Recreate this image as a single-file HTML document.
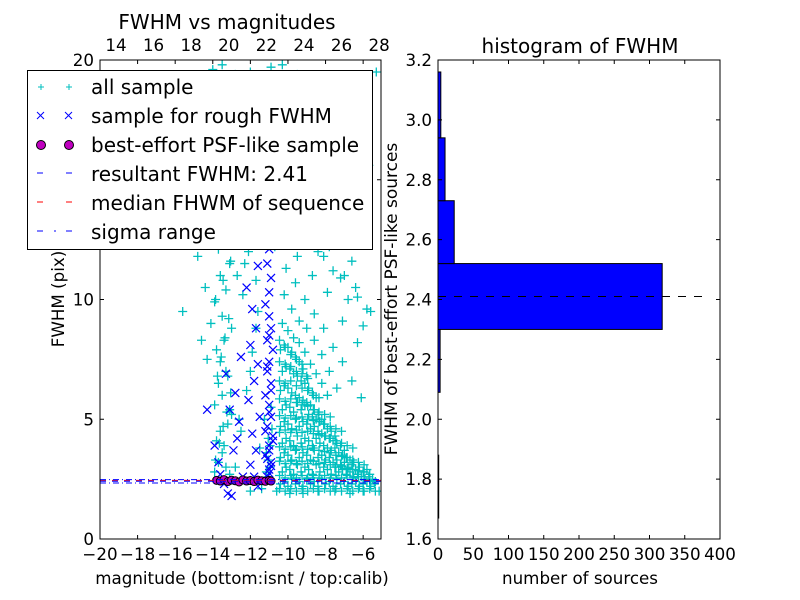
<!DOCTYPE html>
<html><head><meta charset="utf-8"><style>
body{margin:0;background:#fff;}
svg{display:block;font-family:"DejaVu Sans","Liberation Sans",sans-serif;}
</style></head><body>
<svg id="fig" width="800" height="600" viewBox="0 0 800 600" xmlns="http://www.w3.org/2000/svg" style="position:absolute;left:0;top:0">
<rect width="800" height="600" fill="#fff"/>
<g id="left"></g>
<g id="right"></g>
</svg>
<script>
// ---- scatter data ----
const allSampleMag = [-10.4,-10.2,-10.0,-9.8,-9.6,-9.4,-9.2,-9.0,-8.8,-8.6,-8.4,-8.2,-8.0,-7.8,-7.6,-7.4,-7.2,-7.0,-6.8,-6.6,-6.4,-6.2,-6.0,-5.8,-5.6,-5.4,
-10.3,-10.1,-9.9,-9.7,-9.5,-9.3,-9.1,-8.9,-8.7,-8.5,-8.3,-8.1,-7.9,-7.7,-7.5,-7.3,-7.1,-6.9,-6.7,-6.5,-6.3,-6.1,-5.9,-5.7,-5.5,
-10.4,-10.2,-10.0,-9.8,-9.6,-9.4,-9.2,-9.0,-8.8,-8.6,-8.4,-8.2,-8.0,-7.8,-7.6,-7.4,-7.2,-7.0,-6.8,-6.6,-6.4,-6.2,-6.0,-5.8,
-10.3,-10.1,-9.9,-9.7,-9.5,-9.3,-9.1,-8.9,-8.7,-8.5,-8.3,-8.1,-7.9,-7.7,-7.5,-7.3,-7.1,-6.9,-6.7,-6.5,
-10.4,-10.2,-10.0,-9.8,-9.6,-9.4,-9.2,-9.0,-8.8,-8.6,-8.4,-8.2,-8.0,-7.8,-7.6,-7.4,-7.2,-7.0,
-10.3,-10.1,-9.9,-9.7,-9.5,-9.3,-9.1,-8.9,-8.7,-8.5,-8.3,-8.1,-7.9,-7.7,-7.5,
-10.4,-10.2,-10.0,-9.8,-9.6,-9.4,-9.2,-9.0,-8.8,-8.6,-8.4,-8.2,
-10.3,-10.1,-9.9,-9.7,-9.5,-9.3,-9.1,-8.9,-8.7,-8.5,
-10.4,-10.2,-10.0,-9.8,-9.6,-9.4,-9.2,-9.0,
-10.3,-10.0,-9.7,-9.4,-9.1,-8.8,-8.5,-8.2,-7.9,
-10.2,-9.8,-9.4,-9.0,-8.6,-8.2,-7.8,-7.4,
-10.1,-9.6,-9.1,-8.6,-8.1,-7.6,-7.1,-6.6,-6.1,
-10.3,-9.5,-8.7,-7.9,-7.1,-6.3,
-10.0,-9.2,-8.4,-7.6,-6.8,-6.0,
-10.2,-9.4,-8.6,-7.8,-7.0,-5.8,
-9.8,-9.0,-8.2,-7.4,-6.6,
-10.4,-9.6,-8.8,-8.0,-7.2,-6.4,
-10.1,-9.3,-8.5,-7.7,-6.9,
-9.9,-9.1,-8.3,-7.5,-6.2,
-10.3,-9.5,-8.7,-7.3,-5.7,
-13.9,-13.7,-13.5,-13.3,-13.1,-13.8,-13.6,-13.4,-13.2,-13.0,-13.9,-13.5,-13.1,-13.7,-13.3,-13.6,-13.2,-13.8,-13.4,-13.0,-13.5,-13.9,-13.3,-13.6,-13.1,-13.7,-13.2,-13.4,-13.8,-13.5,
-12.8,-12.5,-12.2,-11.9,-11.6,-12.7,-12.3,-11.8,-12.6,-12.0,-11.7,-12.4,-12.1,-12.9,-11.5,-12.5,-12.2,-11.9,-12.7,-12.0,
-14.3,-14.6,-14.1,-14.4,-14.8,-14.2,-15.6,-14.5,-14.0,-14.7,
-11.8,-11.2,-10.8,-12.2,-13.0,-12.6,-11.5,-10.9,-12.9,-11.0,-13.2,-12.3,-11.7,-10.7,-9.6,-8.9,-8.1,-7.2,-6.3,-5.6,
-12.0,-11.4,-10.6,-9.9,-9.2,-8.4,-7.5,-6.7,-6.0,-13.5,-14.0,-12.8,-11.1,-10.4,-9.4,-8.6,-7.8,-6.9,-6.1,-5.3,
-10.45,-10.15,-9.85,-9.55,-9.25,-8.95,-8.65,-8.35,-8.05,-7.75,-7.45,-7.15,-6.85,-6.55,-6.25,-5.95,-5.65,-5.35,-5.15,
-10.45,-10.15,-9.85,-9.55,-9.25,-8.95,-8.65,-8.35,-8.05,-7.75,-7.45,-7.15,-6.85,-6.55,-6.25,-5.95,-5.65,-5.35,
-10.45,-10.15,-9.85,-9.55,-9.25,-8.95,-8.65,-8.35,-8.05,-7.75,-7.45,-7.15,-6.85,-6.55,-6.25,-5.95,-5.65,
-10.45,-10.15,-9.85,-9.55,-9.25,-8.95,-8.65,-8.35,-8.05,-7.75,-7.45,-7.15,-6.85,-6.55,-6.25,-5.95,
-10.45,-10.15,-9.85,-9.55,-9.25,-8.95,-8.65,-8.35,-8.05,-7.75,-7.45,-7.15,-6.85,-6.55,
-10.45,-10.15,-9.85,-9.55,-9.25,-8.95,-8.65,-8.35,-8.05,-7.75,-7.45,-7.15,
-10.45,-10.15,-9.85,-9.55,-9.25,-8.95,-8.65,-8.35,-8.05,-7.75,
-10.45,-10.15,-9.85,-9.55,-9.25,-8.95,-8.65,-8.35,
-10.45,-10.15,-9.85,-9.55,-9.25,-8.95,
-10.45,-10.15,-9.85,-9.55,-9.25,
-13.85,-13.65,-13.45,-13.25,-13.05,-13.75,-13.55,-13.35,-13.15,-13.85,-13.45,-13.05,-13.65,-13.25,
-11.05,-11.15,-10.95,-11.05,-11.15,-10.95,-11.05,-10.85,-11.25,-10.9];
const allSampleFwhm = [2.3,2.4,2.2,2.5,2.3,2.4,2.2,2.5,2.3,2.4,2.2,2.5,2.3,2.4,2.2,2.5,2.3,2.4,2.2,2.3,2.4,2.2,2.3,2.4,2.2,2.3,
2.8,3.0,2.9,2.7,3.1,2.8,3.0,2.9,2.7,3.1,2.8,3.0,2.9,2.7,3.0,2.8,2.9,2.7,2.8,2.6,2.7,2.6,2.5,2.6,2.5,
3.4,3.6,3.5,3.3,3.7,3.4,3.6,3.5,3.3,3.7,3.4,3.5,3.3,3.4,3.2,3.3,3.1,3.2,3.0,3.1,2.9,3.0,2.8,2.9,
4.0,4.2,4.1,3.9,4.3,4.0,4.2,4.1,3.9,4.2,4.0,3.9,3.8,3.7,3.8,3.6,3.5,3.4,3.3,3.2,
4.7,4.9,4.8,4.6,5.0,4.7,4.9,4.8,4.6,4.7,4.5,4.4,4.3,4.2,4.1,4.0,3.9,3.7,
5.4,5.6,5.5,5.3,5.7,5.4,5.6,5.2,5.1,5.0,4.9,4.8,4.6,4.5,4.3,
6.2,6.4,6.3,6.1,6.0,5.9,5.8,5.7,5.6,5.4,5.2,5.0,
7.0,7.2,7.1,6.9,6.8,6.6,6.5,6.3,6.1,5.9,
7.9,8.1,8.0,7.8,7.6,7.4,7.1,6.8,
9.0,8.7,8.4,8.2,7.8,7.3,6.9,6.5,6.0,
10.2,9.6,9.1,8.8,8.3,7.7,7.0,6.3,
11.3,10.7,10.0,9.4,8.8,8.0,7.4,6.6,5.9,
12.5,11.8,11.0,10.3,9.1,8.2,
13.6,12.9,12.0,11.2,10.0,8.9,
14.8,14.0,13.1,12.2,11.0,9.6,
15.9,15.0,14.1,13.0,11.6,
17.0,16.2,15.2,14.3,12.8,10.5,
18.2,17.3,16.4,15.4,13.5,
19.1,18.5,17.6,16.3,14.2,
19.8,19.4,18.8,17.8,15.6,
2.8,3.2,3.6,3.0,2.7,4.1,4.5,3.9,4.8,5.2,5.6,6.0,5.4,6.5,7.0,7.4,6.8,7.9,8.3,8.8,9.3,9.9,10.4,11.0,11.5,12.1,12.6,13.2,13.8,14.4,
3.0,4.5,6.2,7.8,9.5,11.0,12.5,14.0,5.0,7.0,8.8,10.2,12.0,13.5,3.8,16.0,17.5,15.0,18.5,19.5,
7.5,8.3,9.0,10.5,11.8,12.6,9.5,13.5,15.0,16.8,
17.8,18.6,19.3,19.0,18.0,17.0,16.5,19.7,15.5,14.5,13.0,11.5,10.8,12.2,13.4,12.6,11.8,10.9,10.1,9.5,
2.0,2.1,2.0,1.9,1.9,2.0,2.0,1.9,2.0,19.8,19.6,19.4,19.2,18.8,18.4,17.9,17.2,16.6,15.9,19.5,
2.1,2.0,2.1,2.0,2.1,2.0,2.1,2.0,2.1,2.0,2.1,2.0,2.1,2.0,2.1,2.0,2.1,2.0,2.0,
2.65,2.55,2.65,2.55,2.65,2.55,2.65,2.55,2.65,2.55,2.65,2.55,2.65,2.55,2.6,2.5,2.45,2.4,
3.25,3.15,3.25,3.15,3.25,3.15,3.25,3.15,3.2,3.1,3.0,3.05,2.95,2.9,2.85,2.8,2.7,
3.85,3.75,3.85,3.75,3.85,3.75,3.8,3.7,3.65,3.6,3.5,3.45,3.4,3.3,3.2,3.1,
4.45,4.55,4.45,4.55,4.45,4.5,4.4,4.35,4.3,4.2,4.1,4.0,3.9,3.8,
5.15,5.05,5.15,5.05,5.1,5.0,4.95,4.9,4.8,4.7,4.6,4.5,
5.85,5.75,5.85,5.7,5.6,5.55,5.4,5.3,5.2,5.1,
6.6,6.5,6.6,6.4,6.3,6.2,6.0,5.9,
7.4,7.3,7.2,7.0,6.9,6.7,
8.3,8.0,7.7,7.5,7.3,
3.3,4.0,4.7,5.3,6.1,6.8,7.6,8.4,9.2,10.0,10.8,11.6,12.3,12.9,
2.6,2.8,3.0,3.3,3.6,3.9,4.2,4.6,5.0,5.5];
const roughMag = [-11.1,-11.0,-10.9,-11.2,-11.0,-10.8,-11.1,-10.9,-11.0,-11.2,-10.9,-11.1,-11.0,-10.8,-11.1,-10.9,-11.0,-11.2,-11.0,-10.9,-11.1,-11.0,-10.8,-11.1,-10.9,-11.0,-11.2,-10.9,-11.0,-11.1,
-11.6,-11.8,-12.0,-11.7,-11.9,-11.5,-12.1,-11.8,-11.6,-12.0,-11.7,-11.9,-12.2,-11.6,-12.4,-12.3,
-13.2,-13.4,-13.6,-13.7,-12.9,-12.7,-12.6,-13.1,-12.8,-13.3,-12.5,-14.3,-13.9,-12.4,-13.0,
-11.0,-10.9,-11.1,-11.0,-10.8,-11.2,-11.0,-10.9,-11.1,-11.0];
const roughFwhm = [2.6,2.9,3.2,3.5,3.9,4.3,4.7,5.1,5.6,6.0,6.5,7.0,7.4,7.9,8.3,8.8,9.3,9.8,10.3,10.9,11.5,12.1,12.7,13.3,14.0,14.8,15.5,16.3,17.2,18.2,
2.2,2.6,3.1,3.7,4.4,5.1,5.8,6.6,7.3,8.1,8.8,9.6,10.5,11.4,12.5,13.5,
1.9,2.3,2.7,3.2,3.7,4.2,4.9,5.4,6.1,6.9,7.6,5.4,3.9,2.6,1.8,
2.75,3.05,3.35,3.7,4.1,4.5,5.3,6.2,7.2,8.5];
const psfMag = [-13.8,-13.6,-13.4,-13.2,-13.0,-12.8,-12.6,-12.4,-12.2,-12.0,-11.8,-11.6,-11.4,-11.2,-11.0,-10.9];
const psfFwhm = [2.45,2.42,2.48,2.40,2.46,2.43,2.38,2.47,2.42,2.44,2.40,2.46,2.43,2.41,2.45,2.42];
const resultantFwhm = 2.41;
const medianFwhm = 2.45;
const sigmaRange = [2.34, 2.48];
// ---- histogram data ----
const binEdges = [1.67,1.88,2.09,2.30,2.52,2.73,2.94,3.16];
const binCounts = [1,0,3,318,23,10,4];
const xTicksBottom = [-20,-18,-16,-14,-12,-10,-8,-6];
const xTicksTop = [14,16,18,20,22,24,26,28];
const yTicksLeft = [0,5,10,15,20];
const histXTicks = [0,50,100,150,200,250,300,350,400];
const histYTicks = [1.6,1.8,2.0,2.2,2.4,2.6,2.8,3.0,3.2];

const NS="http://www.w3.org/2000/svg";
const FS=16.7;
function mk(parent,tag,attrs,text){const e=document.createElementNS(NS,tag);for(const k in attrs)e.setAttribute(k,attrs[k]);if(text!==undefined)e.textContent=text;parent.appendChild(e);return e;}
const L=document.getElementById('left'), R=document.getElementById('right');
const lx0=100,lx1=381,ly0=60,ly1=539, xmin=-20,xmax=-5.05, ymin=0,ymax=20, topOff=33.15;
const sx=v=>lx0+(v-xmin)/(xmax-xmin)*(lx1-lx0);
const sy=v=>ly1-(v-ymin)/(ymax-ymin)*(ly1-ly0);
const clip=mk(L,'clipPath',{id:'lc'});mk(clip,'rect',{x:lx0,y:ly0,width:lx1-lx0,height:ly1-ly0});
const pts=mk(L,'g',{'clip-path':'url(#lc)'});
for(let i=0;i<allSampleMag.length;i++){
  const x=sx(allSampleMag[i]),y=sy(allSampleFwhm[i]);
  const p=mk(pts,'path',{d:`M${x-4.5} ${y}H${x+4.5}M${x} ${y-4.5}V${y+4.5}`,stroke:'#00bfbf','stroke-width':1.3});
  
  
}
for(let i=0;i<roughMag.length;i++){
  const x=sx(roughMag[i]),y=sy(roughFwhm[i]);
  const p=mk(pts,'path',{d:`M${x-4} ${y-4}L${x+4} ${y+4}M${x-4} ${y+4}L${x+4} ${y-4}`,stroke:'#0000ff','stroke-width':1.2});
  
  
}
for(let i=0;i<psfMag.length;i++){
  const c=mk(pts,'circle',{cx:sx(psfMag[i]),cy:sy(psfFwhm[i]),r:4,fill:'#bf00bf',stroke:'#000','stroke-width':1});
  
  
}
let ln=mk(pts,'line',{x1:lx0,x2:lx1,y1:sy(medianFwhm),y2:sy(medianFwhm),stroke:'#ff0000','stroke-dasharray':'6 6'});

ln=mk(pts,'line',{x1:lx0,x2:lx1,y1:sy(resultantFwhm),y2:sy(resultantFwhm),stroke:'#0000ff','stroke-dasharray':'6 6'});

for(const s of sigmaRange){ln=mk(pts,'line',{x1:lx0,x2:lx1,y1:sy(s),y2:sy(s),stroke:'#0000ff','stroke-dasharray':'6 3 1 3'});
}
mk(L,'rect',{x:lx0,y:ly0,width:lx1-lx0,height:ly1-ly0,fill:'none',stroke:'#000'});
for(const t of xTicksBottom){const x=sx(t);mk(L,'path',{d:`M${x} ${ly1}v-4M${x} ${ly0}v4`,stroke:'#000'});
 const e=mk(L,'text',{x:x,y:ly1+21,'font-size':FS,'text-anchor':'middle'},t<0?'\u2212'+(-t):t);}
for(const t of xTicksTop){const x=sx(t-topOff);
 const e=mk(L,'text',{x:x,y:51,'font-size':FS,'text-anchor':'middle'},t);}
for(const t of yTicksLeft){const y=sy(t);mk(L,'path',{d:`M${lx0} ${y}h4M${lx1} ${y}h-4`,stroke:'#000'});
 const e=mk(L,'text',{x:lx0-6,y:y+6,'font-size':FS,'text-anchor':'end'},t);}
const rx0=438,rx1=720, hxmax=400, hymin=1.6,hymax=3.2;
const hx=v=>rx0+v/hxmax*(rx1-rx0);
const hy=v=>ly1-(v-hymin)/(hymax-hymin)*(ly1-ly0);
for(let i=0;i<binCounts.length;i++){
  const r=mk(R,'rect',{x:hx(0),y:hy(binEdges[i+1]),width:Math.max(hx(binCounts[i])-hx(0),0),height:hy(binEdges[i])-hy(binEdges[i+1]),fill:'#0000ff',stroke:'#000','stroke-width':1});
  
  
}
ln=mk(R,'line',{x1:hx(0),x2:hx(385),y1:hy(resultantFwhm),y2:hy(resultantFwhm),stroke:'#000','stroke-dasharray':'8 8'});

mk(R,'rect',{x:rx0,y:ly0,width:rx1-rx0,height:ly1-ly0,fill:'none',stroke:'#000'});
for(const t of histXTicks){const x=hx(t);mk(R,'path',{d:`M${x} ${ly1}v-4M${x} ${ly0}v4`,stroke:'#000'});
 const e=mk(R,'text',{x:x,y:ly1+21,'font-size':FS,'text-anchor':'middle'},t);}
for(const t of histYTicks){const y=hy(t);mk(R,'path',{d:`M${rx0} ${y}h4M${rx1} ${y}h-4`,stroke:'#000'});
 const e=mk(R,'text',{x:rx0-6,y:y+6,'font-size':FS,'text-anchor':'end'},t.toFixed(1));}
</script>
<svg style="position:absolute;left:0;top:0" width="800" height="600">
<g font-family="DejaVu Sans, Liberation Sans, sans-serif">
<text x="227" y="29" font-size="20" text-anchor="middle">FWHM vs magnitudes</text>
<text x="242" y="584" font-size="16.7" text-anchor="middle">magnitude (bottom:isnt / top:calib)</text>
<text transform="translate(64,299) rotate(-90)" font-size="16.7" text-anchor="middle">FWHM (pix)</text>
<text x="580" y="53" font-size="20" text-anchor="middle">histogram of FWHM</text>
<text x="580" y="584" font-size="16.7" text-anchor="middle">number of sources</text>
<text transform="translate(397,299) rotate(-90)" font-size="17" text-anchor="middle">FWHM of best-effort PSF-like sources</text>
<g>
<rect x="27.5" y="70.5" width="345" height="179" fill="#fff" stroke="#000"/>
<g stroke="#00bfbf"><path d="M38 87h6M41 84v6M66 87h6M69 84v6"/></g>
<text x="91" y="94" font-size="20">all sample</text>
<g stroke="#0000ff"><path d="M37 112l7 7M37 119l7-7M65 112l7 7M65 119l7-7"/></g>
<text x="91" y="123" font-size="20">sample for rough FWHM</text>
<circle cx="41" cy="145" r="4.5" fill="#bf00bf" stroke="#000"/><circle cx="69" cy="145" r="4.5" fill="#bf00bf" stroke="#000"/>
<text x="91" y="152" font-size="20">best-effort PSF-like sample</text>
<path d="M37 173h6M66 173h6" stroke="#0000ff"/>
<text x="91" y="181" font-size="20">resultant FWHM: 2.41</text>
<path d="M37 202h6M66 202h6" stroke="#ff0000"/>
<text x="91" y="210" font-size="20">median FHWM of sequence</text>
<path d="M37 231h6M54 231h2M66 231h6" stroke="#0000ff"/>
<text x="91" y="239" font-size="20">sigma range</text>
</g>
</g></svg>
</body></html>
